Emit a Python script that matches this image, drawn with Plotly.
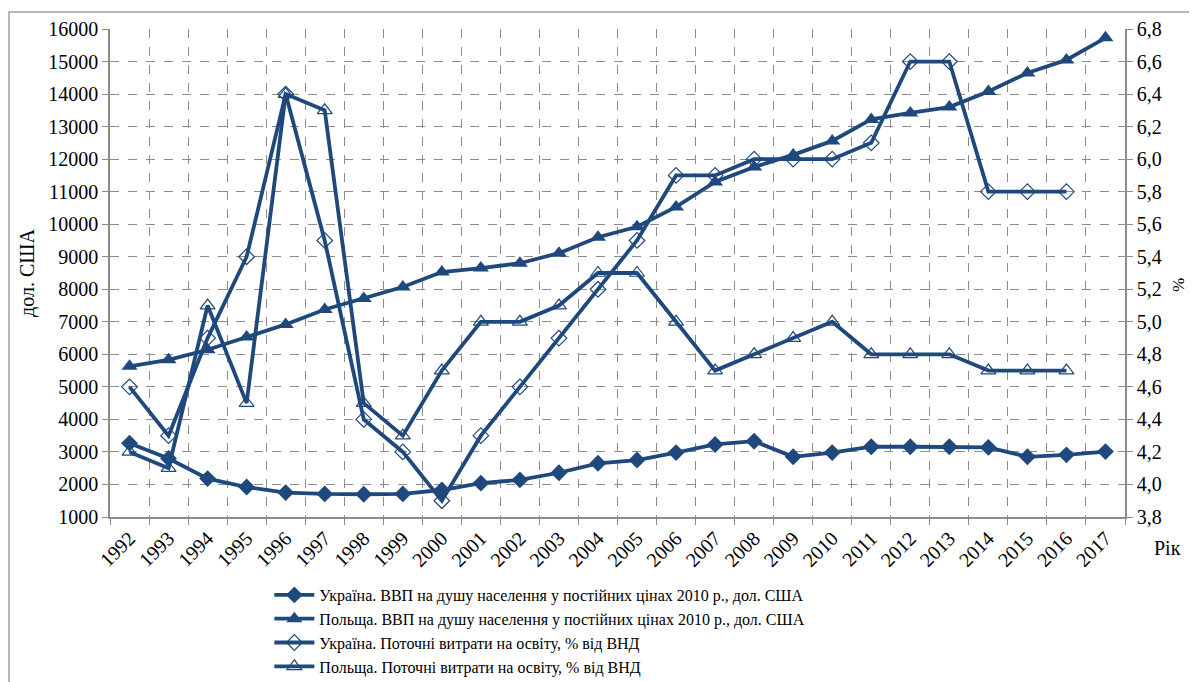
import plotly.graph_objects as go

years = [str(y) for y in range(1992, 2018)]

ua_gdp = [3270, 2800, 2180, 1920, 1750, 1710, 1700, 1710, 1830, 2040, 2140, 2360, 2650, 2750,
          2980, 3230, 3330, 2850, 2980, 3160, 3160, 3160, 3140, 2850, 2910, 3010]
pl_gdp = [5630, 5830, 6140, 6530, 6920, 7380, 7720, 8070, 8530, 8650, 8800, 9110, 9600, 9920,
          10530, 11300, 11760, 12130, 12560, 13220, 13420, 13600, 14080, 14650, 15050, 15730]
ua_edu = [4.6, 4.3, 4.9, 5.4, 6.4, 5.5, 4.4, 4.2, 3.9, 4.3, 4.6, 4.9, 5.2, 5.5,
          5.9, 5.9, 6.0, 6.0, 6.0, 6.1, 6.6, 6.6, 5.8, 5.8, 5.8, None]
pl_edu = [4.2, 4.1, 5.1, 4.5, 6.4, 6.3, 4.5, 4.3, 4.7, 5.0, 5.0, 5.1, 5.3, 5.3,
          5.0, 4.7, 4.8, 4.9, 5.0, 4.8, 4.8, 4.8, 4.7, 4.7, 4.7, None]

names = [
    "Україна. ВВП на душу населення у постійних цінах 2010 р., дол. США",
    "Польща. ВВП на душу населення у постійних цінах 2010 р., дол. США",
    "Україна. Поточні витрати на освіту, % від ВНД",
    "Польща. Поточні витрати на освіту, % від ВНД",
]

C = "#1F497D"
FONT = "Times New Roman, Liberation Serif, DejaVu Serif, serif"

fig = go.Figure()
fig.add_trace(go.Scatter(x=years, y=ua_gdp, name=names[0], mode="lines+markers",
                         line=dict(color=C, width=3.8),
                         marker=dict(symbol="diamond", size=13, color=C)))
fig.add_trace(go.Scatter(x=years, y=pl_gdp, name=names[1], mode="lines+markers",
                         line=dict(color=C, width=3.8),
                         marker=dict(symbol="triangle-up", size=14, color=C)))
fig.add_trace(go.Scatter(x=years, y=ua_edu, name=names[2], mode="lines+markers", yaxis="y2",
                         line=dict(color=C, width=3.8),
                         marker=dict(symbol="diamond-open", size=12, color=C, line=dict(width=1.2))))
fig.add_trace(go.Scatter(x=years, y=pl_edu, name=names[3], mode="lines+markers", yaxis="y2",
                         line=dict(color=C, width=3.8),
                         marker=dict(symbol="triangle-up-open", size=13, color=C, line=dict(width=1.2))))

grid = dict(showgrid=True, gridcolor="#8c8c8c", griddash="dash", gridwidth=1)

W, H = 1189, 674
L, T, PW, PH = 102, 21, 1015, 488

fig.update_layout(
    width=W, height=H,
    margin=dict(l=L, r=W - L - PW, t=T, b=H - T - PH, autoexpand=False),
    paper_bgcolor="white", plot_bgcolor="white",
    font=dict(family=FONT, size=20, color="black"),
    separators=", ",
    showlegend=True,
    legend=dict(x=0.157, y=-0.125, xanchor="left", yanchor="top", orientation="v",
                font=dict(family=FONT, size=16), tracegroupgap=0, itemwidth=40,
                borderwidth=0, bgcolor="rgba(0,0,0,0)"),
    xaxis=dict(type="category", range=[-0.5, 25.5], tickson="boundaries", tickangle=-45,
               ticks="outside", ticklen=6, tickcolor="#8c8c8c", automargin=False,
               showline=True, linecolor="#8c8c8c", linewidth=1.5, mirror=False, **grid),
    yaxis=dict(range=[1000, 16000], dtick=1000, tickformat="d", automargin=False,
               ticks="outside", ticklen=6, tickcolor="#8c8c8c",
               showline=True, linecolor="#8c8c8c", linewidth=1.5, zeroline=False,
               title=dict(text="дол. США", font=dict(size=20), standoff=8), **grid),
    yaxis2=dict(range=[3.8, 6.8], dtick=0.2, tickformat=".1f", overlaying="y", side="right",
                ticks="outside", ticklen=6, tickcolor="#8c8c8c", automargin=False,
                showline=True, linecolor="#8c8c8c", linewidth=1.5, showgrid=False, zeroline=False),
)

fig.add_annotation(text="%", xref="paper", yref="paper", x=1.064, y=0.475, showarrow=False,
                   textangle=90, font=dict(family=FONT, size=17))
fig.add_annotation(text="Рік", xref="paper", yref="paper", x=1.027, y=-0.0635, showarrow=False,
                   xanchor="left", yanchor="middle", font=dict(family=FONT, size=20))

# outer chart border
fig.add_shape(type="rect", xref="paper", yref="paper",
              x0=(1 - L) / PW, x1=(W + 20 - L) / PW,
              y0=-(H + 20 - T - PH) / PH, y1=(T + PH - 4) / PH,
              line=dict(color="#a0a0a0", width=1.5), fillcolor="rgba(0,0,0,0)", layer="below")

fig.write_html("out.html")
